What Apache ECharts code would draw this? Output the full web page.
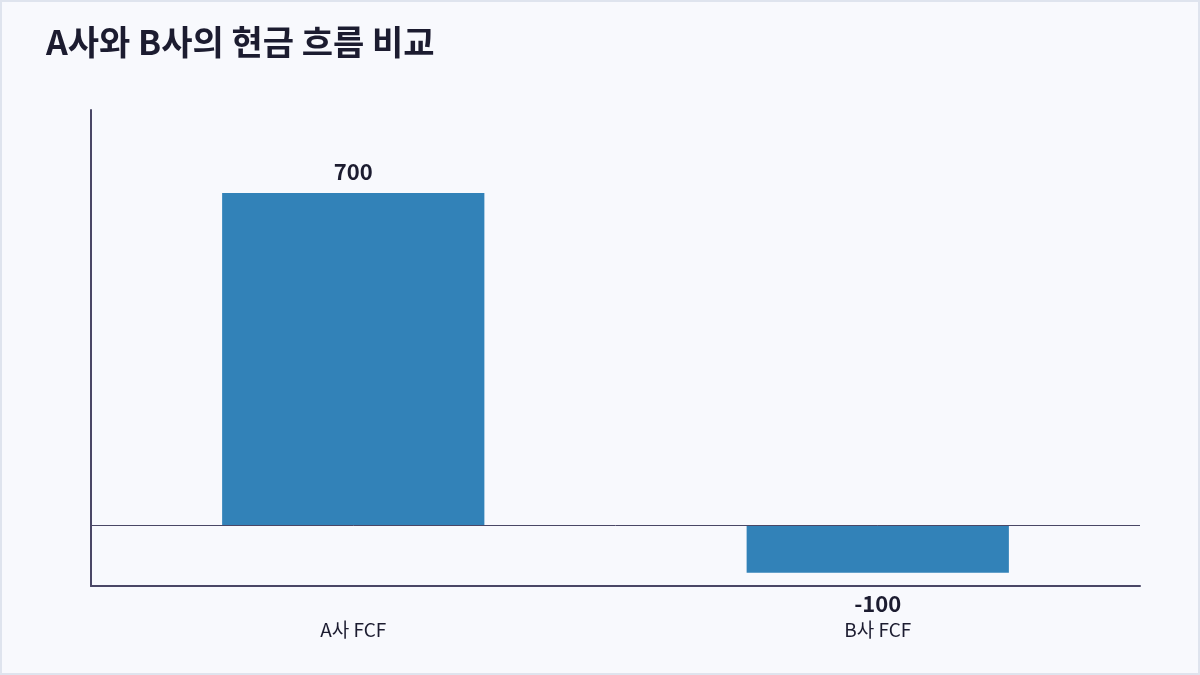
<!DOCTYPE html>
<html><head><meta charset="utf-8">
<script src="https://cdn.jsdelivr.net/npm/echarts@6/dist/echarts.min.js"></script>
<style>
html,body{margin:0;padding:0;background:#f8f9fd;}
#wrap{position:relative;width:1200px;height:675px;}
#chart{width:1200px;height:675px;}
#border{position:absolute;left:0;top:0;width:1200px;height:675px;box-sizing:border-box;border:2px solid #dfe4ee;pointer-events:none;}
</style></head>
<body>
<div id="wrap"><div id="chart"></div><div id="border"></div></div>
<script>
const categories = ['A사 FCF', 'B사 FCF'];
const fcfValues = [700, -100];
const titleText = 'A사와 B사의 현금 흐름 비교';

const chart = echarts.init(document.getElementById('chart'));
const font = '"Noto Sans CJK KR", "Noto Sans", sans-serif';
chart.setOption({
  backgroundColor: '#f8f9fd',
  animation: false,
  title: {
    text: titleText, left: 41, top: 20,
    textStyle: { fontFamily: font, fontSize: 34, fontWeight: 'bold', color: '#1c1c30' }
  },
  grid: { left: 91, right: 60, top: 110, bottom: 89 },
  xAxis: {
    type: 'category', data: categories,
    axisLine: { onZero: false, lineStyle: { color: '#4a4766', width: 2 } },
    axisTick: { show: false },
    axisLabel: { margin: 34, fontFamily: font, fontSize: 19, color: '#1c1c30' }
  },
  yAxis: {
    type: 'value', min: -128, max: 875,
    axisLine: { show: true, lineStyle: { color: '#4a4766', width: 2 } },
    axisTick: { show: false }, axisLabel: { show: false }, splitLine: { show: false }
  },
  series: [{
    type: 'bar', barWidth: '50%',
    data: fcfValues.map((v) => ({
      value: v,
      label: v >= 0 ? { position: 'top', distance: 10 } : { position: 'bottom', distance: 20 }
    })),
    itemStyle: { color: '#3282b8' },
    label: { show: true, fontFamily: font, fontSize: 22, fontWeight: 'bold', color: '#1c1c30' },
    markLine: {
      silent: true, symbol: 'none', label: { show: false },
      lineStyle: { color: '#4a4766', width: 1, type: 'solid' },
      data: [{ yAxis: 0 }]
    }
  }]
});
</script>
</body></html>
